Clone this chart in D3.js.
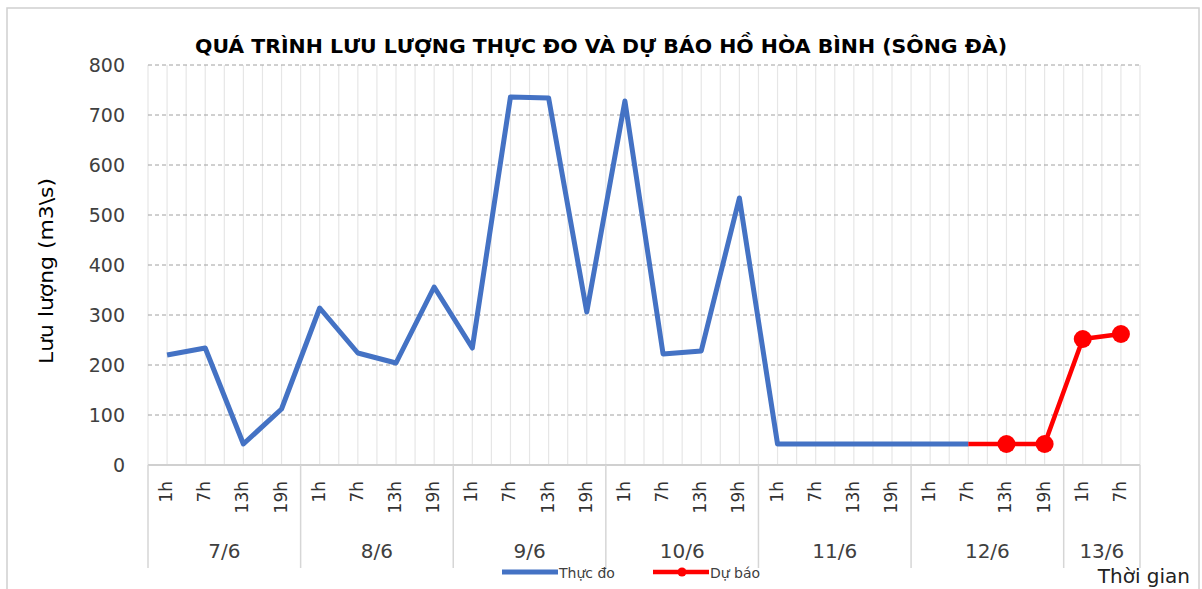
<!DOCTYPE html>
<html>
<head>
<meta charset="utf-8">
<script src="https://cdn.jsdelivr.net/npm/d3@7"></script>
<style>
  body { margin: 0; background: #fff; }
  text { font-family: "DejaVu Sans", sans-serif; }
</style>
</head>
<body>
<script>
// Data
var days = ["7/6", "8/6", "9/6", "10/6", "11/6", "12/6", "13/6"];
var hours = ["1h", "7h", "13h", "19h"];
var categories = ["7/6 1h", "7/6 7h", "7/6 13h", "7/6 19h",
  "8/6 1h", "8/6 7h", "8/6 13h", "8/6 19h",
  "9/6 1h", "9/6 7h", "9/6 13h", "9/6 19h",
  "10/6 1h", "10/6 7h", "10/6 13h", "10/6 19h",
  "11/6 1h", "11/6 7h", "11/6 13h", "11/6 19h",
  "12/6 1h", "12/6 7h", "12/6 13h", "12/6 19h",
  "13/6 1h", "13/6 7h"];
var thucDo = [220, 234, 42, 112, 314, 224, 204, 356, 234, 736, 734, 306,
  728, 222, 228, 534, 42, 42, 42, 42, 42, 42, null, null, null, null];
var duBao = [null, null, null, null, null, null, null, null, null, null, null, null,
  null, null, null, null, null, null, null, null, null, 42, 42, 42, 252, 262];
var yTicks = [0, 100, 200, 300, 400, 500, 600, 700, 800];

var svgWidth = 1202;
var svgHeight = 589;

var chartMargin = { top: 65, right: 62, bottom: 124, left: 148 };
var chartWidth = svgWidth - chartMargin.left - chartMargin.right;
var chartHeight = svgHeight - chartMargin.top - chartMargin.bottom;

var svg = d3.select("body")
  .append("svg")
  .attr("width", svgWidth)
  .attr("height", svgHeight);

// outer frame
svg.append("rect")
  .attr("x", 7).attr("y", 8)
  .attr("width", svgWidth - 10).attr("height", svgHeight - 6)
  .attr("fill", "none")
  .attr("stroke", "#d0d0d0")
  .attr("stroke-width", 1.5);

var chartGroup = svg.append("g")
  .attr("transform", `translate(${chartMargin.left}, ${chartMargin.top})`);

var xBandScale = d3.scaleBand()
  .domain(categories)
  .range([0, chartWidth]);
var bw = xBandScale.bandwidth();

var yLinearScale = d3.scaleLinear()
  .domain([0, 800])
  .range([chartHeight, 0]);

// vertical gridlines at band edges and centers
var vLines = [];
categories.forEach(function(c) {
  vLines.push(xBandScale(c));
  vLines.push(xBandScale(c) + bw / 2);
});
vLines.push(chartWidth);
chartGroup.selectAll(".vgrid")
  .data(vLines)
  .enter()
  .append("line")
  .attr("class", "vgrid")
  .attr("x1", d => d).attr("x2", d => d)
  .attr("y1", 0).attr("y2", chartHeight)
  .attr("stroke", "#e6e6e6")
  .attr("stroke-width", 1.2);

// horizontal dashed gridlines
chartGroup.selectAll(".hgrid")
  .data(yTicks.filter(d => d > 0))
  .enter()
  .append("line")
  .attr("class", "hgrid")
  .attr("x1", 0).attr("x2", chartWidth)
  .attr("y1", d => yLinearScale(d)).attr("y2", d => yLinearScale(d))
  .attr("stroke", "#a0a0a0")
  .attr("stroke-width", 1)
  .attr("stroke-dasharray", "4,3");

// y axis labels
var leftAxis = d3.axisLeft(yLinearScale).tickValues(yTicks).tickSize(0).tickPadding(23);
var yAxisG = chartGroup.append("g").call(leftAxis);
yAxisG.select(".domain").remove();
yAxisG.selectAll("text")
  .attr("font-size", 19)
  .attr("fill", "#404040")
  .style("font-family", "'DejaVu Sans', sans-serif");

// x axis base line
chartGroup.append("line")
  .attr("x1", 0).attr("x2", chartWidth)
  .attr("y1", chartHeight).attr("y2", chartHeight)
  .attr("stroke", "#d0d0d0")
  .attr("stroke-width", 2);

// day separators
var sepX = days.map((d, i) => xBandScale(categories[i * 4]));
sepX.push(chartWidth);
chartGroup.selectAll(".sep")
  .data(sepX)
  .enter()
  .append("line")
  .attr("class", "sep")
  .attr("x1", d => d).attr("x2", d => d)
  .attr("y1", chartHeight).attr("y2", chartHeight + 103)
  .attr("stroke", "#d6d6d6")
  .attr("stroke-width", 1.5);

// hour labels (rotated)
chartGroup.selectAll(".hlab")
  .data(categories)
  .enter()
  .append("text")
  .attr("class", "hlab")
  .attr("transform", d => `translate(${xBandScale(d) + bw / 2 + 5}, ${chartHeight + 16}) rotate(-90)`)
  .attr("text-anchor", "end")
  .attr("font-size", 17)
  .attr("fill", "#333")
  .text(d => d.split(" ")[1]);

// day labels
chartGroup.selectAll(".dlab")
  .data(days)
  .enter()
  .append("text")
  .attr("class", "dlab")
  .attr("x", (d, i) => {
    var first = xBandScale(categories[i * 4]);
    var last = i * 4 + 3 < categories.length ? xBandScale(categories[i * 4 + 3]) + bw : chartWidth;
    return (first + last) / 2;
  })
  .attr("y", chartHeight + 93)
  .attr("text-anchor", "middle")
  .attr("font-size", 20)
  .attr("fill", "#404040")
  .text(d => d);

var line = d3.line()
  .defined(d => d.v !== null)
  .x(d => xBandScale(d.c) + bw / 2)
  .y(d => yLinearScale(d.v));

var blueData = categories.map((c, i) => ({ c: c, v: thucDo[i] }));
var redData = categories.map((c, i) => ({ c: c, v: duBao[i] }));

chartGroup.append("path")
  .datum(blueData)
  .attr("d", line)
  .attr("fill", "none")
  .attr("stroke", "#4472C4")
  .attr("stroke-width", 5)
  .attr("stroke-linejoin", "round");

chartGroup.append("path")
  .datum(redData)
  .attr("d", line)
  .attr("fill", "none")
  .attr("stroke", "#FF0000")
  .attr("stroke-width", 4.5)
  .attr("stroke-linejoin", "round");

// forecast markers (not on the first point, which joins the measured line)
chartGroup.selectAll(".mk")
  .data(redData.filter((d, i) => d.v !== null && i > 21))
  .enter()
  .append("circle")
  .attr("class", "mk")
  .attr("cx", d => xBandScale(d.c) + bw / 2)
  .attr("cy", d => yLinearScale(d.v))
  .attr("r", 9)
  .attr("fill", "#FF0000");

// title
svg.append("text")
  .attr("x", 601)
  .attr("y", 53)
  .attr("text-anchor", "middle")
  .attr("font-size", 20)
  .attr("font-weight", "bold")
  .attr("fill", "#000")
  .attr("textLength", 812)
  .attr("lengthAdjust", "spacingAndGlyphs")
  .text("QUÁ TRÌNH LƯU LƯỢNG THỰC ĐO VÀ DỰ BÁO HỒ HÒA BÌNH (SÔNG ĐÀ)");

// y axis title
svg.append("text")
  .attr("transform", "translate(53, 271) rotate(-90)")
  .attr("text-anchor", "middle")
  .attr("font-size", 19)
  .attr("fill", "#000")
  .attr("textLength", 186)
  .attr("lengthAdjust", "spacingAndGlyphs")
  .text("Lưu lượng (m3\\s)");

// x axis title
svg.append("text")
  .attr("x", 1190)
  .attr("y", 583)
  .attr("text-anchor", "end")
  .attr("font-size", 20)
  .attr("fill", "#222")
  .text("Thời gian");

// legend
var legend = svg.append("g").attr("transform", "translate(502, 572)");
legend.append("line")
  .attr("x1", 0).attr("x2", 56).attr("y1", 0).attr("y2", 0)
  .attr("stroke", "#4472C4").attr("stroke-width", 5);
legend.append("text")
  .attr("x", 57).attr("y", 6)
  .attr("font-size", 14).attr("fill", "#404040")
  .text("Thực đo");
legend.append("line")
  .attr("x1", 151).attr("x2", 207).attr("y1", 0).attr("y2", 0)
  .attr("stroke", "#FF0000").attr("stroke-width", 4.5);
legend.append("circle")
  .attr("cx", 180).attr("cy", 0).attr("r", 4.5).attr("fill", "#FF0000");
legend.append("text")
  .attr("x", 208).attr("y", 6)
  .attr("font-size", 14).attr("fill", "#404040")
  .text("Dự báo");
</script>
</body>
</html>
